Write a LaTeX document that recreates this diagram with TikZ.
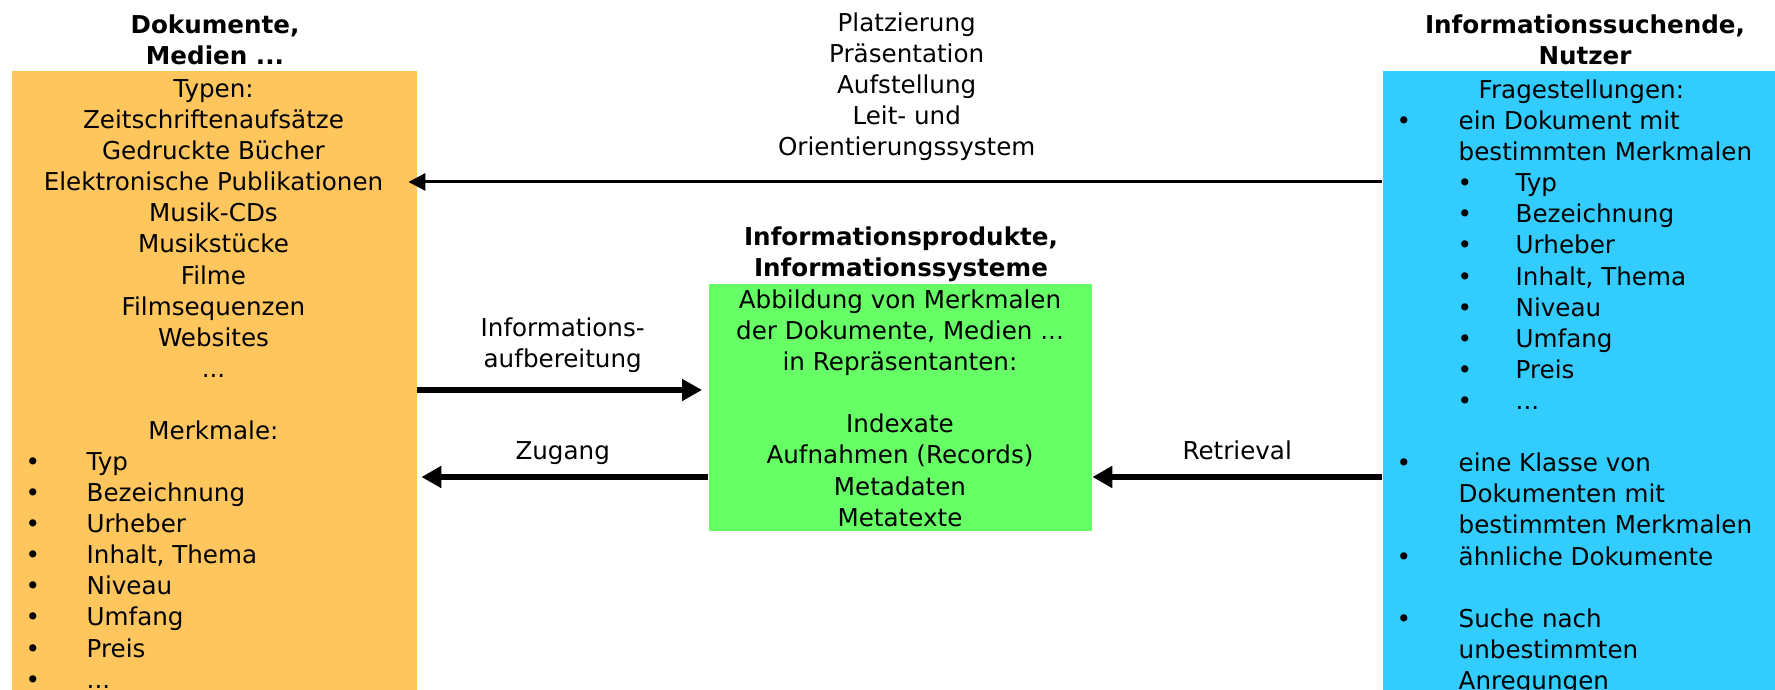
\documentclass[tikz,border=0pt]{standalone}
\usepackage{fontspec}
\setmainfont{DejaVu Sans}
\usepackage{xcolor}
\usepackage{tikz}
\usetikzlibrary{arrows.meta}

\definecolor{dokorange}{HTML}{FFC65E}
\definecolor{infogruen}{HTML}{66FF66}
\definecolor{nutzerblau}{HTML}{33CCFF}

\newcommand{\pkt}[2][6.1mm]{\makebox[#1][l]{\textbullet}#2}

\tikzset{
  kasten/.style={rectangle,inner sep=0pt,anchor=north west},
  schrift/.style={font=\fontsize{7}{8.85}\selectfont,inner sep=0pt},
  titel/.style={font=\fontsize{7}{8.85}\selectfont\bfseries,inner sep=0pt,align=center,anchor=north},
  dick/.style={line width=0.6mm,-{Triangle[length=2mm,width=2.1mm]}},
  duenn/.style={line width=0.3mm,-{Triangle[length=1.7mm,width=1.7mm]}}
}

\begin{document}
\begin{tikzpicture}[x=0.1mm,y=-0.1mm]
  \useasboundingbox (0,0) rectangle (1775,690);
  \clip (0,0) rectangle (1775,690);
  \node[kasten,fill=dokorange,minimum width=40.5mm,minimum height=63mm] (dok) at (11,70) {};
  \node[kasten,fill=infogruen,minimum width=38.3mm,minimum height=24.7mm] (info) at (708,283) {};
  \node[kasten,fill=nutzerblau,minimum width=40.3mm,minimum height=63mm] (nutzer) at (1382,70) {};
  \node[titel] (dokTitel) at (215,11) {\strut Dokumente,\\Medien ...};
  \node[titel] (infoTitel) at (901,223) {\strut Informationsprodukte,\\Informationssysteme};
  \node[titel] (nutzerTitel) at (1585,11) {\strut Informationssuchende,\\Nutzer};
  \node[schrift,align=center,anchor=north] (typen) at (213.5,75) {\strut Typen:\\Zeitschriftenaufsätze\\Gedruckte Bücher\\Elektronische Publikationen\\Musik-CDs\\Musikstücke\\Filme\\Filmsequenzen\\Websites\\...\\[8.85pt]Merkmale:};
  \node[schrift,align=left,anchor=north west] (merkmale) at (25,448) {\pkt{\strut Typ}\\\pkt{Bezeichnung}\\\pkt{Urheber}\\\pkt{Inhalt, Thema}\\\pkt{Niveau}\\\pkt{Umfang}\\\pkt{Preis}\\\pkt{...}};
  \node[schrift,align=center,anchor=north] (abbildung) at (900,286) {\strut Abbildung von Merkmalen\\der Dokumente, Medien ...\\in Repräsentanten:\\[8.85pt]Indexate\\Aufnahmen (Records)\\Metadaten\\Metatexte};
  \node[schrift,align=left,anchor=north west] (fragen) at (1396,76) {\hspace*{8.2mm}\strut Fragestellungen:\\
    \pkt[6.2mm]{ein Dokument mit}\\
    \hspace*{6.2mm}bestimmten Merkmalen\\
    \hspace*{6.1mm}\pkt[5.8mm]{Typ}\\
    \hspace*{6.1mm}\pkt[5.8mm]{Bezeichnung}\\
    \hspace*{6.1mm}\pkt[5.8mm]{Urheber}\\
    \hspace*{6.1mm}\pkt[5.8mm]{Inhalt, Thema}\\
    \hspace*{6.1mm}\pkt[5.8mm]{Niveau}\\
    \hspace*{6.1mm}\pkt[5.8mm]{Umfang}\\
    \hspace*{6.1mm}\pkt[5.8mm]{Preis}\\
    \hspace*{6.1mm}\pkt[5.8mm]{...}\\[8.85pt]
    \pkt[6.2mm]{eine Klasse von}\\
    \hspace*{6.2mm}Dokumenten mit\\
    \hspace*{6.2mm}bestimmten Merkmalen\\
    \pkt[6.2mm]{ähnliche Dokumente}\\[8.85pt]
    \pkt[6.2mm]{Suche nach}\\
    \hspace*{6.2mm}unbestimmten\\
    \hspace*{6.2mm}Anregungen};
  \coordinate (yoben) at (0,182);
  \coordinate (ymitte) at (0,390);
  \coordinate (yunten) at (0,477);
  \draw[duenn,shorten >=-0.9mm] (nutzer.west |- yoben) -- node[schrift,align=center,midway,above=1.57mm,xshift=0.7mm] (platzierung) {\strut Platzierung\\Präsentation\\Aufstellung\\Leit- und\\Orientierungssystem\strut} (dok.east |- yoben);
  \draw[dick,shorten >=0.6mm] (dok.east |- ymitte) -- node[schrift,align=center,midway,above=0.97mm] (aufbereitung) {\strut Informations-\\aufbereitung\strut} (info.west |- ymitte);
  \draw[dick,shorten >=0.4mm] (info.west |- yunten) -- node[schrift,midway,above=0.47mm] (zugang) {Zugang\strut} (dok.east |- yunten);
  \draw[dick] (nutzer.west |- yunten) -- node[schrift,midway,above=0.47mm] (retrieval) {Retrieval\strut} (info.east |- yunten);
\end{tikzpicture}
\end{document}
